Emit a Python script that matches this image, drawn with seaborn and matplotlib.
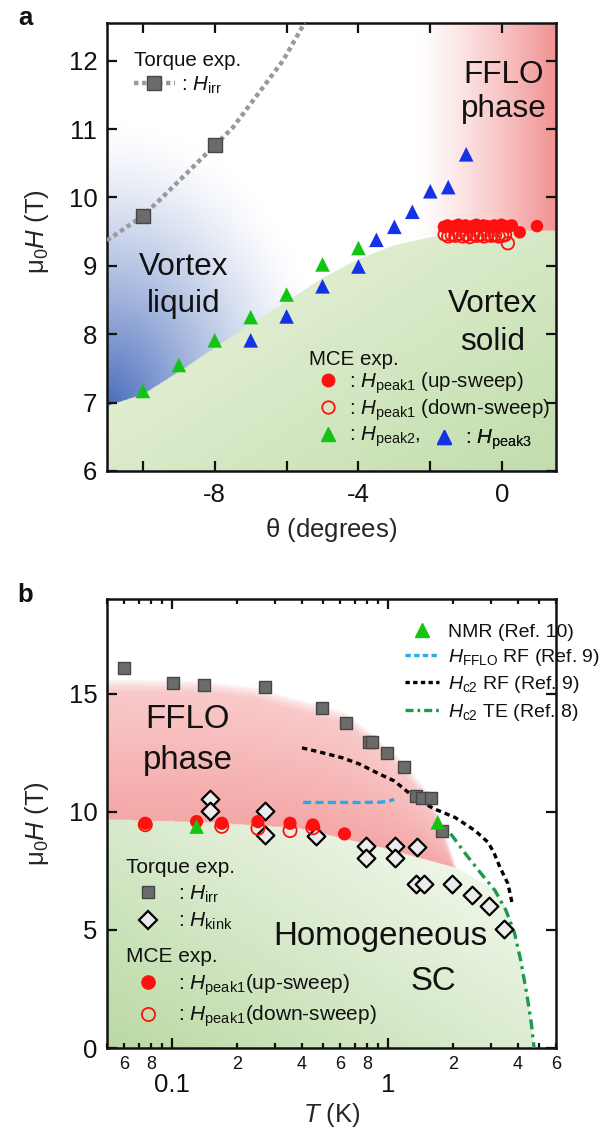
import numpy as np
import matplotlib
matplotlib.use("Agg")
import matplotlib.pyplot as plt
import seaborn as sns
from matplotlib.lines import Line2D
from matplotlib.ticker import FixedLocator, FixedFormatter

# ---------------- panel a data (theta in degrees, mu0H in T) ----------------
irr_theta = [-10, -8]
irr_H = [9.73, 10.76]
irr_fit_theta = [-11.0, -10.0, -9.5, -8.0, -7.5, -6.1, -5.5]
irr_fit_H = [9.37, 9.73, 9.98, 10.76, 11.02, 12.0, 12.55]

peak2_theta = [-10, -9, -8, -7, -6, -5, -4]
peak2_H = [7.17, 7.55, 7.91, 8.25, 8.58, 9.02, 9.26]

peak3_theta = [-7, -6, -5, -4, -3.5, -3.0, -2.5, -2.0, -1.5, -1.0]
peak3_H = [7.91, 8.26, 8.70, 8.99, 9.38, 9.57, 9.79, 10.09, 10.15, 10.63]

peak1_up_theta = [-1.62, -1.52, -1.42, -1.32, -1.22, -1.12, -1.02, -0.92, -0.82, -0.72,
                  -0.62, -0.52, -0.42, -0.32, -0.22, -0.12, -0.02, 0.08, 0.18, 0.27, 0.49, 0.97]
peak1_up_H = [9.57, 9.59, 9.56, 9.58, 9.60, 9.57, 9.59, 9.56, 9.58, 9.60,
              9.57, 9.59, 9.58, 9.56, 9.59, 9.57, 9.60, 9.58, 9.57, 9.59, 9.49, 9.58]
peak1_dn_theta = [-1.60, -1.50, -1.40, -1.30, -1.20, -1.10, -1.00, -0.90, -0.80, -0.70,
                  -0.60, -0.50, -0.40, -0.30, -0.20, -0.10, 0.00, 0.08, 0.16]
peak1_dn_H = [9.46, 9.43, 9.45, 9.44, 9.47, 9.43, 9.45, 9.42, 9.46, 9.44,
              9.45, 9.43, 9.46, 9.44, 9.45, 9.43, 9.44, 9.45, 9.33]

# phase-region boundary (vortex solid upper edge)
solid_top_theta = [-11, -10, -9, -8, -7, -6, -5, -4, -3, -2, -1, 0, 1.5]
solid_top_H = [6.95, 7.12, 7.45, 7.80, 8.15, 8.48, 8.82, 9.10, 9.30, 9.42, 9.49, 9.51, 9.52]

# ---------------- panel b data (T in K, mu0H in T) ----------------
hirr_T = [0.060, 0.101, 0.141, 0.270, 0.495, 0.638, 0.818, 0.843, 0.99, 1.19, 1.35, 1.44, 1.58, 1.77]
hirr_H = [16.06, 15.46, 15.36, 15.28, 14.40, 13.77, 12.95, 12.95, 12.50, 11.90, 10.68, 10.60, 10.60, 9.17]

hkink_T = [0.150, 0.150, 0.270, 0.270, 0.462, 0.79, 0.79, 1.08, 1.08, 1.37, 1.35, 1.47, 1.97, 2.46, 2.94, 3.44]
hkink_H = [10.52, 10.04, 10.04, 9.02, 8.95, 8.54, 8.02, 8.54, 8.02, 8.52, 6.96, 6.96, 6.96, 6.49, 6.01, 5.03]

peak1b_up_T = [0.0752, 0.130, 0.170, 0.250, 0.352, 0.449, 0.629]
peak1b_up_H = [9.51, 9.58, 9.51, 9.58, 9.51, 9.44, 9.06]
peak1b_dn_T = [0.0752, 0.170, 0.250, 0.352, 0.449]
peak1b_dn_H = [9.45, 9.38, 9.30, 9.20, 9.32]

nmr_T = [0.130, 1.70]
nmr_H = [9.37, 9.55]

hfflo_T = [0.405, 0.55, 0.75, 0.92, 1.00, 1.07]
hfflo_H = [10.39, 10.39, 10.39, 10.40, 10.44, 10.52]

hc2rf_T = [0.40, 0.48, 0.615, 0.736, 0.91, 1.07, 1.21, 1.39, 1.66, 2.05, 2.53, 2.91, 3.10, 3.30, 3.59, 3.78]
hc2rf_H = [12.70, 12.53, 12.28, 12.02, 11.60, 11.30, 10.90, 10.46, 10.10, 9.75, 9.20, 8.70, 8.25, 7.65, 6.96, 6.03]

hc2te_T = [1.95, 2.28, 2.70, 3.13, 3.52, 3.86, 4.12, 4.40, 4.62, 4.75]
hc2te_H = [9.07, 8.23, 7.38, 6.67, 5.82, 4.85, 3.71, 2.25, 1.00, 0.0]

fflo_top_T = [0.05, 0.10, 0.15, 0.25, 0.32, 0.45, 0.64, 0.82, 1.16, 1.49, 1.71, 1.97, 2.08]
fflo_top_H = [15.6, 15.58, 15.5, 15.25, 14.95, 14.6, 14.2, 13.4, 12.2, 11.0, 10.0, 8.3, 7.62]
fflo_bot_T = [0.05, 0.15, 0.39, 0.94, 2.08]
fflo_bot_H = [9.68, 9.55, 9.3, 8.48, 7.62]
sc_top_T = [0.05, 0.15, 0.39, 0.94, 2.08, 3.22, 3.79, 4.11, 4.46, 4.75, 6.0]
sc_top_H = [9.68, 9.55, 9.3, 8.48, 7.62, 6.65, 5.25, 3.85, 2.17, 0.0, 0.0]

minor_tick_vals = [0.05, 0.06, 0.07, 0.08, 0.09, 0.2, 0.3, 0.4, 0.5, 0.6, 0.7, 0.8, 0.9,
                   2, 3, 4, 5, 6]
minor_tick_text = ['', '6', '', '8', '', '2', '', '4', '', '6', '', '8', '',
                   '2', '', '4', '', '6']

# ---------------- style ----------------
sns.set_theme(style="ticks")
plt.rcParams["font.family"] = ["Liberation Sans", "DejaVu Sans"]
plt.rcParams["mathtext.fontset"] = "custom"
plt.rcParams["mathtext.rm"] = "Liberation Sans"
plt.rcParams["mathtext.it"] = "Liberation Sans:italic"
plt.rcParams["mathtext.bf"] = "Liberation Sans:bold"
plt.rcParams["axes.linewidth"] = 1.8
plt.rcParams["axes.edgecolor"] = "#111111"
plt.rcParams["text.color"] = "#111111"

RED = "#ff1010"
GREEN = "#14c414"
BLUE = "#1432e6"
SQ_FACE = "#6b6b6b"
SQ_EDGE = "#464646"
TICK_FS = 18.5
BIG_A = 22.7
BIG_B = 23.8

fig = plt.figure(figsize=(6.0, 11.27), dpi=100)
W, H = 600.0, 1127.0
rect_a = [107 / W, 1 - 471 / H, 449 / W, 448 / H]
rect_b = [107 / W, 1 - 1048 / H, 449 / W, 449 / H]

# ======================= panel a =======================
ax_a = fig.add_axes(rect_a)
xa0, xa1, ya0, ya1 = -11.0, 1.5, 6.0, 12.55
gx = np.linspace(xa0, xa1, 700)
gy = np.linspace(ya0, ya1, 600)
X, Y = np.meshgrid(gx, gy)
Gb = np.interp(X, solid_top_theta, solid_top_H)
u = (X - xa0) / (xa1 - xa0)
w = np.clip(0.6 * u + 0.5 * (1 - (Y - 6) / 3.5) - 0.2, 0, 1)
g_light = np.array([230, 241, 216]) / 255
g_dark = np.array([190, 219, 168]) / 255
green_img = g_light + (g_dark - g_light) * w[..., None]
dx = (X - xa0) / (xa1 - xa0) * 1.3
dy = (Y - 6.9) / (ya1 - ya0)
sb = np.clip(1 - np.hypot(dx, dy) / 0.64, 0, 1) ** 1.35
b_dark = np.array([70, 106, 186]) / 255
blue_img = 1 - (1 - b_dark) * sb[..., None]
tr = np.clip((X + 2.4) / 3.9, 0, 1) ** 1.25 * (Y > 9.45)
r_col = np.array([242, 146, 146]) / 255
red_img = 1 - (1 - r_col) * tr[..., None]
img_a = np.where((Y > Gb)[..., None], blue_img * red_img, green_img)
ax_a.imshow(img_a, extent=[xa0, xa1, ya0, ya1], origin="lower", aspect="auto",
            interpolation="bilinear", zorder=0)

sns.lineplot(x=irr_fit_theta, y=irr_fit_H, ax=ax_a, sort=False, estimator=None,
             color="#9a9a9a", linewidth=3.2, linestyle=(0, (1.0, 0.8)), zorder=3)
sns.scatterplot(x=irr_theta, y=irr_H, ax=ax_a, marker="s", s=9.5 ** 2, color=SQ_FACE,
                edgecolor=SQ_EDGE, linewidth=1.0, zorder=5)
sns.scatterplot(x=peak2_theta, y=peak2_H, ax=ax_a, marker="^", s=10.5 ** 2, color=GREEN,
                edgecolor="none", linewidth=0, zorder=5)
sns.scatterplot(x=peak3_theta, y=peak3_H, ax=ax_a, marker="^", s=10.5 ** 2, color=BLUE,
                edgecolor="none", linewidth=0, zorder=5)
sns.scatterplot(x=peak1_dn_theta, y=peak1_dn_H, ax=ax_a, marker="o", s=9 ** 2,
                facecolor="none", edgecolor=RED, linewidth=1.3, zorder=5)
sns.scatterplot(x=peak1_up_theta, y=peak1_up_H, ax=ax_a, marker="o", s=9 ** 2, color=RED,
                edgecolor="none", linewidth=0, zorder=6)

ax_a.set_xlim(xa0, xa1)
ax_a.set_ylim(ya0, ya1)
ax_a.set_xticks([-10, -8, -6, -4, -2, 0])
ax_a.set_xticklabels(["", "-8", "", "-4", "", "0"])
ax_a.set_yticks([6, 7, 8, 9, 10, 11, 12])
ax_a.tick_params(which="both", direction="in", top=True, right=True, width=1.6,
                 length=7, labelsize=TICK_FS, colors="#111111")
ax_a.tick_params(axis="x", pad=9)
ax_a.tick_params(axis="y", pad=7)
ax_a.set_xlabel(r"$\mathrm{\theta}$ (degrees)", fontsize=TICK_FS)
ax_a.set_ylabel(r"$\mathrm{\mu_0}H$ (T)", fontsize=TICK_FS)
ax_a.xaxis.set_label_coords(0.5, -0.1)
ax_a.yaxis.set_label_coords(-0.125, 0.535)


def tx(ax, x, y, s, size):
    ax.text(x, y, s, ha="center", va="baseline", fontsize=size, zorder=7)


tx(ax_a, 0.05, 11.68, "FFLO", BIG_A)
tx(ax_a, 0.05, 11.18, "phase", BIG_A)
tx(ax_a, -8.87, 8.86, "Vortex", BIG_A)
tx(ax_a, -8.87, 8.32, "liquid", BIG_A)
tx(ax_a, -0.27, 8.32, "Vortex", BIG_A)
tx(ax_a, -0.27, 7.77, "solid", BIG_A)

# legends panel a
LEGKW = dict(frameon=False, borderpad=0, borderaxespad=0, loc="upper left")
LFS_A = 14.8
h_irr = Line2D([], [], color="#9a9a9a", lw=3.2, ls=(0, (1.0, 0.8)), marker="s", ms=9.5,
               mfc=SQ_FACE, mec=SQ_EDGE)
leg1 = ax_a.legend([h_irr], [r": $H_{\mathrm{irr}}$"], title="Torque exp.",
                   bbox_to_anchor=(0.06, 0.937), fontsize=LFS_A, title_fontsize=LFS_A,
                   handlelength=2.0, handletextpad=0.3, labelspacing=0.2, **LEGKW)
leg1._legend_box.align = "left"
ax_a.add_artist(leg1)

h_up = Line2D([], [], ls="", marker="o", ms=9, mfc=RED, mec=RED)
h_dn = Line2D([], [], ls="", marker="o", ms=9, mfc="none", mec=RED, mew=1.3)
h_p2 = Line2D([], [], ls="", marker="^", ms=10.5, color=GREEN)
h_p3 = Line2D([], [], ls="", marker="^", ms=10.5, color=BLUE)
leg2 = ax_a.legend([h_up, h_dn, h_p2],
                   [r": $H_{\mathrm{peak1}}$ (up-sweep)", r": $H_{\mathrm{peak1}}$ (down-sweep)",
                    r": $H_{\mathrm{peak2}}$,"],
                   title="MCE exp.", bbox_to_anchor=(0.45, 0.271), fontsize=LFS_A,
                   title_fontsize=LFS_A, handlelength=1.85, handletextpad=0.1,
                   labelspacing=0.08, **LEGKW)
leg2._legend_box.align = "left"
ax_a.add_artist(leg2)
leg3 = ax_a.legend([h_p3], [r": $H_{\mathrm{peak3}}$"], bbox_to_anchor=(0.708, 0.097),
                   fontsize=LFS_A, handlelength=1.85, handletextpad=0.1, **LEGKW)
ax_a.add_artist(leg3)

# ======================= panel b =======================
lx0, lx1 = np.log10(0.05), np.log10(6.0)
bg_b = fig.add_axes(rect_b, zorder=0)
bx = np.linspace(lx0, lx1, 700)
by = np.linspace(0, 19, 700)
LX, HY = np.meshgrid(bx, by)
ptop = np.interp(LX, np.log10(fflo_top_T), fflo_top_H)
pbot = np.interp(LX, np.log10(fflo_bot_T), fflo_bot_H)
in_pink = (HY >= pbot) & (HY <= ptop) & (LX <= np.log10(fflo_top_T[-1]))
frac = np.clip((ptop - HY) / np.maximum(ptop - pbot, 1e-6), 0, 1)
sp = (0.5 + 0.38 * frac) * np.clip((ptop - HY) / 0.5, 0, 1) ** 0.6
p_col = np.array([243, 155, 155]) / 255
pink_img = 1 - (1 - p_col) * sp[..., None]
gtop = np.interp(LX, np.log10(sc_top_T), sc_top_H)
in_green = HY < gtop
ub = (LX - lx0) / (lx1 - lx0)
wb = np.clip(1 - 0.7 * ub - 0.6 * HY / 10.0, 0, 1)
gb_light = np.array([238, 246, 232]) / 255
gb_dark = np.array([186, 217, 163]) / 255
greenb_img = gb_light + (gb_dark - gb_light) * wb[..., None]
img_b = np.ones(LX.shape + (3,))
img_b = np.where(in_green[..., None], greenb_img, img_b)
img_b = np.where(in_pink[..., None], pink_img, img_b)
bg_b.imshow(img_b, extent=[lx0, lx1, 0, 19], origin="lower", aspect="auto",
            interpolation="bilinear")
bg_b.set_xlim(lx0, lx1)
bg_b.set_ylim(0, 19)
bg_b.axis("off")

ax_b = fig.add_axes(rect_b, zorder=1)
ax_b.set_facecolor("none")
ax_b.set_xscale("log")

sns.lineplot(x=hfflo_T, y=hfflo_H, ax=ax_b, sort=False, estimator=None, color="#27a9ec",
             linewidth=2.4, linestyle=(0, (2.4, 1.3)), zorder=3)
sns.lineplot(x=hc2rf_T, y=hc2rf_H, ax=ax_b, sort=False, estimator=None, color="black",
             linewidth=2.4, linestyle=(0, (1.6, 1.2)), zorder=3)
sns.lineplot(x=hc2te_T, y=hc2te_H, ax=ax_b, sort=False, estimator=None, color="#1c9a4c",
             linewidth=2.4, linestyle=(0, (3.0, 1.5, 0.9, 1.5)), zorder=3)
sns.scatterplot(x=hirr_T, y=hirr_H, ax=ax_b, marker="s", s=9 ** 2, color=SQ_FACE,
                edgecolor=SQ_EDGE, linewidth=1.0, zorder=5)
sns.scatterplot(x=hkink_T, y=hkink_H, ax=ax_b, marker="D", s=9 ** 2, color="#ececec",
                edgecolor="black", linewidth=1.6, zorder=5)
sns.scatterplot(x=peak1b_dn_T, y=peak1b_dn_H, ax=ax_b, marker="o", s=9.5 ** 2,
                facecolor="none", edgecolor=RED, linewidth=1.3, zorder=5)
sns.scatterplot(x=peak1b_up_T, y=peak1b_up_H, ax=ax_b, marker="o", s=9.5 ** 2, color=RED,
                edgecolor="none", linewidth=0, zorder=6)
sns.scatterplot(x=nmr_T, y=nmr_H, ax=ax_b, marker="^", s=10.5 ** 2, color=GREEN,
                edgecolor="none", linewidth=0, zorder=7)

ax_b.set_xlim(0.05, 6.0)
ax_b.set_ylim(0, 19)
ax_b.set_yticks([0, 5, 10, 15])
ax_b.xaxis.set_major_locator(FixedLocator([0.1, 1.0]))
ax_b.xaxis.set_major_formatter(FixedFormatter(["0.1", "1"]))
ax_b.xaxis.set_minor_locator(FixedLocator(minor_tick_vals))
ax_b.xaxis.set_minor_formatter(FixedFormatter(minor_tick_text))
ax_b.tick_params(which="both", direction="in", top=True, right=True, width=1.6,
                 colors="#111111")
ax_b.tick_params(which="major", length=7.5, labelsize=TICK_FS)
ax_b.tick_params(which="minor", length=3.8, labelsize=13)
ax_b.tick_params(axis="x", which="major", pad=18)
ax_b.tick_params(axis="x", which="minor", pad=5.5)
ax_b.tick_params(axis="y", which="major", pad=7)
ax_b.set_xlabel(r"$T$ (K)", fontsize=TICK_FS)
ax_b.set_ylabel(r"$\mathrm{\mu_0}H$ (T)", fontsize=TICK_FS)
ax_b.xaxis.set_label_coords(0.5, -0.118)
ax_b.yaxis.set_label_coords(-0.125, 0.5)

tx(ax_b, 0.118, 13.53, "FFLO", BIG_B)
tx(ax_b, 0.118, 11.80, "phase", BIG_B)
tx(ax_b, 0.926, 4.35, "Homogeneous", BIG_B)
tx(ax_b, 1.62, 2.45, "SC", BIG_B)

# legends panel b
h_nmr = Line2D([], [], ls="", marker="^", ms=10.5, color=GREEN)
h_ffl = Line2D([], [], color="#27a9ec", lw=2.4, ls=(0, (1.6, 1.0)))
h_hrf = Line2D([], [], color="black", lw=2.4, ls=(0, (1.3, 1.0)))
h_hte = Line2D([], [], color="#1c9a4c", lw=2.4, ls=(0, (2.4, 1.2, 0.8, 1.2)))
legb1 = ax_b.legend([h_nmr, h_ffl, h_hrf, h_hte],
                    ["NMR (Ref. 10)", r"$H_{\mathrm{FFLO}}$ RF (Ref. 9)",
                     r"$H_{\mathrm{c2}}$ RF (Ref. 9)", r"$H_{\mathrm{c2}}$ TE (Ref. 8)"],
                    bbox_to_anchor=(0.664, 0.946), fontsize=14, handlelength=1.75,
                    handletextpad=0.45, labelspacing=0.32, **LEGKW)
ax_b.add_artist(legb1)

LFS_B = 15
h_sq = Line2D([], [], ls="", marker="s", ms=9, mfc=SQ_FACE, mec=SQ_EDGE)
h_dm = Line2D([], [], ls="", marker="D", ms=9, mfc="#ececec", mec="black", mew=1.6)
h_up2 = Line2D([], [], ls="", marker="o", ms=9.5, mfc=RED, mec=RED)
h_dn2 = Line2D([], [], ls="", marker="o", ms=9.5, mfc="none", mec=RED, mew=1.3)
legb2 = ax_b.legend([h_sq, h_dm], [r": $H_{\mathrm{irr}}$", r": $H_{\mathrm{kink}}$"],
                    title="Torque exp.", bbox_to_anchor=(0.042, 0.423), fontsize=LFS_B,
                    title_fontsize=LFS_B, handlelength=2.1, handletextpad=0.4,
                    labelspacing=0.3, **LEGKW)
legb2._legend_box.align = "left"
ax_b.add_artist(legb2)
legb3 = ax_b.legend([h_up2, h_dn2],
                    [r": $H_{\mathrm{peak1}}$(up-sweep)", r": $H_{\mathrm{peak1}}$(down-sweep)"],
                    title="MCE exp.", bbox_to_anchor=(0.042, 0.225), fontsize=LFS_B,
                    title_fontsize=LFS_B, handlelength=2.1, handletextpad=0.4,
                    labelspacing=0.3, **LEGKW)
legb3._legend_box.align = "left"

# panel letters
fig.text(25 / W, 1 - 25 / H, "a", fontsize=18.5, fontweight="bold", ha="center", va="baseline")
fig.text(25 / W, 1 - 602 / H, "b", fontsize=18.5, fontweight="bold", ha="center", va="baseline")

fig.savefig("out.png", dpi=100)
